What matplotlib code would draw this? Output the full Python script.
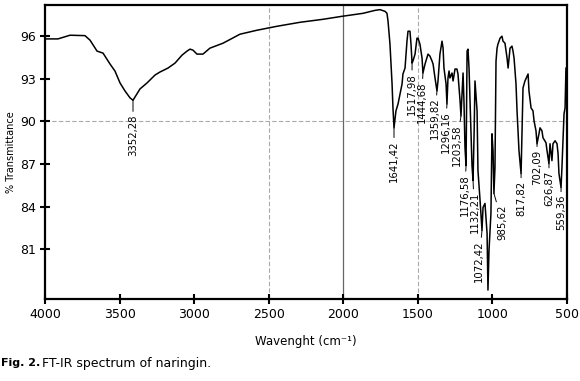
import numpy as np
import matplotlib
matplotlib.use('Agg')
import matplotlib.pyplot as plt

# ---- spectrum (cm-1, %T)
wavenumber = [4000, 3913, 3832, 3732, 3698, 3651, 3611, 3564, 3531, 3497,
              3464, 3430, 3410, 3363, 3316, 3262, 3229, 3175, 3128, 3081,
              3048, 3028, 3008, 2981, 2941, 2894, 2806, 2693, 2579, 2444,
              2290, 2136, 2009, 1868, 1787, 1754, 1720, 1707, 1700, 1687,
              1673, 1667, 1660, 1647, 1633, 1606, 1600, 1586, 1573, 1566,
              1553, 1546, 1539, 1533, 1519, 1506, 1499, 1486, 1472, 1466,
              1452, 1432, 1419, 1405, 1398, 1385, 1372, 1365, 1352, 1338,
              1331, 1325, 1311, 1305, 1298, 1291, 1285, 1271, 1264, 1251,
              1238, 1231, 1217, 1211, 1204, 1197, 1191, 1184, 1177, 1170,
              1164, 1157, 1150, 1137, 1130, 1123, 1117, 1103, 1097, 1083,
              1070, 1063, 1050, 1036, 1030, 1023, 1010, 1003, 996, 990,
              983, 976, 969, 963, 949, 936, 929, 916, 902, 895,
              882, 869, 862, 855, 842, 835, 822, 808, 802, 795,
              782, 761, 755, 741, 728, 721, 708, 701, 688, 681,
              668, 661, 641, 634, 621, 614, 601, 594, 580, 567,
              560, 554, 540, 534, 527, 520, 513, 507, 500]
transmittance = [95.81, 95.81, 96.07, 96.04, 95.72, 94.95, 94.81, 94.04, 93.55, 92.71,
                 92.15, 91.66, 91.49, 92.29, 92.71, 93.27, 93.48, 93.76, 94.11, 94.67,
                 94.95, 95.09, 95.02, 94.74, 94.74, 95.16, 95.51, 96.14, 96.42, 96.70,
                 96.98, 97.19, 97.40, 97.61, 97.82, 97.87, 97.75, 97.61, 97.05, 95.44,
                 92.64, 90.95, 89.55, 90.74, 91.23, 92.64, 93.34, 93.76, 95.65, 96.35,
                 96.35, 95.44, 94.11, 94.25, 94.74, 95.86, 95.86, 95.44, 94.46, 93.41,
                 94.04, 94.74, 94.60, 94.25, 94.04, 93.06, 92.15, 92.85, 94.74, 95.65,
                 95.16, 93.76, 92.64, 91.23, 93.06, 93.55, 93.06, 93.41, 92.85, 93.69,
                 93.69, 93.34, 91.44, 90.39, 91.94, 93.41, 91.44, 88.15, 86.89, 94.95,
                 95.09, 93.76, 91.44, 86.89, 85.84, 89.13, 92.85, 90.74, 86.54, 84.44,
                 82.33, 83.95, 84.23, 82.12, 78.13, 80.93, 83.53, 89.13, 87.94, 84.93,
                 86.75, 94.25, 95.16, 95.44, 95.86, 96.00, 95.65, 95.51, 94.46, 93.76,
                 95.16, 95.30, 94.95, 94.46, 92.64, 90.74, 87.94, 86.33, 89.13, 92.36,
                 92.85, 93.34, 92.15, 90.95, 90.74, 90.04, 89.34, 88.43, 89.13, 89.55,
                 89.34, 88.85, 88.50, 87.94, 87.03, 88.43, 87.24, 88.43, 88.64, 88.43,
                 87.73, 86.33, 85.35, 86.75, 88.64, 90.53, 90.95, 93.76, 93.76]

# peak labels and where the marked minima sit on the curve
peak_labels = ['3352,28', '1641,42', '1517,98', '1444,68', '1359,82', '1296,16',
               '1203,58', '1176,58', '1132,21', '1072,42', '985,62', '817,82',
               '702,09', '626,87', '559,36']
peak_wn = [3410, 1660, 1539, 1466, 1372, 1305, 1211, 1177, 1130, 1070,
           990, 808, 701, 621, 540]
peak_t = [91.49, 89.55, 94.11, 93.41, 92.15, 91.23, 90.39, 86.89, 85.84, 82.33,
          84.93, 86.33, 88.43, 87.03, 85.35]
# leader offsets (points)
label_dx = [0, 0, 0, -1, -1.5, -1, -3, -1, 1, -2, 6, 0, 0, 0, 0]
label_dy = [-10, -9, -7, -6, -5, -5, -6, -6, -8, -7, -8, -5, -4, -5, -5]

xticks = [4000, 3500, 3000, 2500, 2000, 1500, 1000, 500]
yticks = [81, 84, 87, 90, 93, 96]

plt.rcParams['font.family'] = 'DejaVu Sans'

fig = plt.figure(figsize=(5.8, 3.81), dpi=100)
ax = fig.add_axes([0.0776, 0.2152, 0.9, 0.7718])

# reference lines
ax.axhline(90, color='#aaaaaa', lw=0.8, ls=(0, (4, 2)), zorder=0)
for g in [2500, 1500]:
    ax.axvline(g, color='#aaaaaa', lw=0.8, ls=(0, (4, 2)), zorder=0)
ax.axvline(2000, color='#666666', lw=0.9, zorder=0)

ax.plot(wavenumber, transmittance, color='black', lw=1.1)

for lab, x, y, dx, dy in zip(peak_labels, peak_wn, peak_t, label_dx, label_dy):
    ax.annotate(lab, xy=(x, y), xytext=(dx, dy), textcoords='offset points',
                rotation=90, ha='center', va='top', fontsize=7.3,
                arrowprops=dict(arrowstyle='-', lw=0.7, color='black',
                                shrinkA=0, shrinkB=0))

ax.set_xlim(4000, 500)
ax.set_ylim(77.5, 98.2)
ax.set_xticks(xticks)
ax.set_yticks(yticks)
ax.tick_params(direction='inout', length=7, width=1.5, labelsize=9, pad=3)
for s in ax.spines.values():
    s.set_linewidth(1.6)

ax.set_xlabel('Wavenght (cm\u207b\u00b9)', fontsize=8.5, labelpad=10)
ax.set_ylabel('% Transmittance', fontsize=7, labelpad=3)

fig.text(0.002, 0.047, 'Fig. 2.', fontsize=8, fontweight='bold', va='center')
fig.text(0.073, 0.047, 'FT-IR spectrum of naringin.', fontsize=9, va='center')

fig.savefig('out.png', dpi=100)
